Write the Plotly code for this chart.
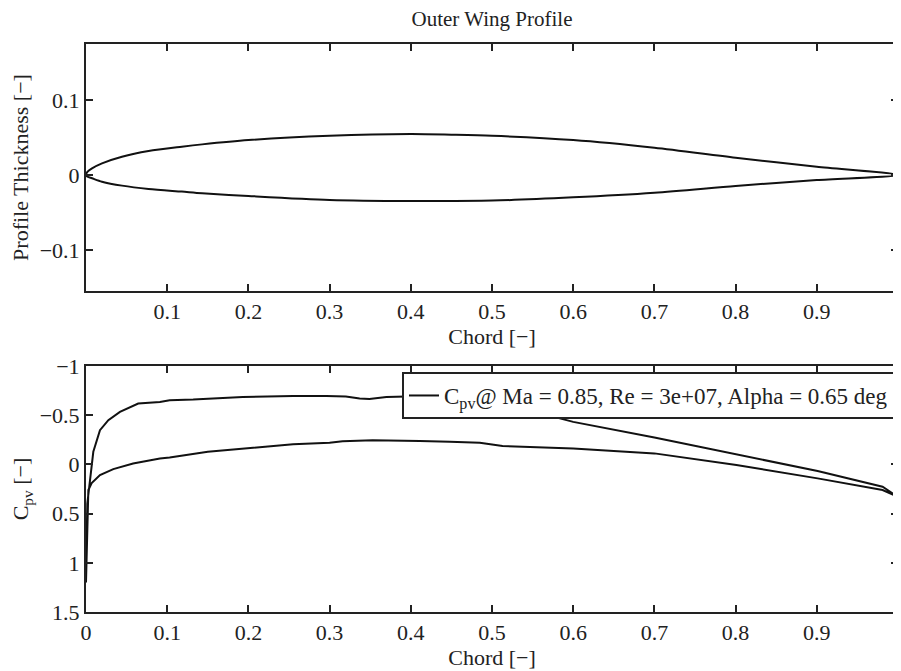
import plotly.graph_objects as go
from plotly.subplots import make_subplots

# ---- Profile geometry ----
upper_x = [0.0, 0.002, 0.0074, 0.0197, 0.0443, 0.077, 0.118, 0.143, 0.2, 0.3, 0.4, 0.45, 0.5, 0.6, 0.7, 0.8, 0.9, 1.0]
upper_y = [0.0, 0.0045, 0.0089, 0.0156, 0.0244, 0.032, 0.0378, 0.0409, 0.0467, 0.0524, 0.0547, 0.0538, 0.0524, 0.0467, 0.0364, 0.0231, 0.0111, 0.0]
lower_x = [0.0, 0.002, 0.0074, 0.0197, 0.0443, 0.077, 0.118, 0.143, 0.2, 0.3, 0.4, 0.5, 0.6, 0.7, 0.8, 0.9, 1.0]
lower_y = [0.0, -0.0024, -0.0044, -0.0089, -0.0142, -0.0187, -0.0222, -0.0244, -0.028, -0.0333, -0.0347, -0.0342, -0.0298, -0.0236, -0.0147, -0.0067, 0.0]

# ---- Pressure distribution ----
cp_upper_x = [0.0, 0.0005, 0.0016, 0.009, 0.0172, 0.0275, 0.0418, 0.0643, 0.091, 0.103, 0.132, 0.193,
              0.255, 0.296, 0.32, 0.337, 0.349, 0.37, 0.386, 0.42, 0.45, 0.5, 0.554, 0.6, 0.7, 0.801,
              0.901, 0.981, 1.0]
cp_upper = [1.2, 0.8, 0.40, -0.128, -0.348, -0.449, -0.533, -0.619, -0.635, -0.652, -0.659, -0.686,
            -0.696, -0.696, -0.69, -0.669, -0.665, -0.686, -0.693, -0.695, -0.69, -0.62, -0.533, -0.432,
            -0.274, -0.101, 0.068, 0.227, 0.33]
cp_lower_x = [0.0, 0.0029, 0.007, 0.0172, 0.0336, 0.058, 0.091, 0.103, 0.15, 0.173, 0.2, 0.255, 0.3,
              0.316, 0.353, 0.378, 0.411, 0.448, 0.485, 0.513, 0.6, 0.7, 0.801, 0.901, 0.981, 1.0]
cp_lower = [1.2, 0.26, 0.19, 0.109, 0.048, -0.01, -0.061, -0.071, -0.128, -0.145, -0.172, -0.206,
            -0.219, -0.236, -0.246, -0.246, -0.239, -0.229, -0.219, -0.186, -0.162, -0.112, 0.007,
            0.142, 0.26, 0.33]

top_xticks = [0.1, 0.2, 0.3, 0.4, 0.5, 0.6, 0.7, 0.8, 0.9, 1.0]
top_xlabels = ["0.1", "0.2", "0.3", "0.4", "0.5", "0.6", "0.7", "0.8", "0.9", "1"]
bot_xticks = [0, 0.1, 0.2, 0.3, 0.4, 0.5, 0.6, 0.7, 0.8, 0.9, 1.0]
bot_xlabels = ["0", "0.1", "0.2", "0.3", "0.4", "0.5", "0.6", "0.7", "0.8", "0.9", "1"]
top_yticks = [-0.1, 0, 0.1]
top_ylabels = ["\u22120.1", "0", "0.1"]
bot_yticks = [-1, -0.5, 0, 0.5, 1, 1.5]
bot_ylabels = ["\u22121", "\u22120.5", "0", "0.5", "1", "1.5"]

FONT = "Liberation Serif"
FS = 22
TICKF = dict(family=FONT, size=FS, color="#222")

fig = make_subplots(rows=2, cols=1)

prof_x = upper_x[::-1] + lower_x[1:]
prof_y = upper_y[::-1] + lower_y[1:]
fig.add_trace(go.Scatter(x=prof_x, y=prof_y, mode="lines",
                         line=dict(color="#111", width=2, shape="spline", smoothing=0.8),
                         showlegend=False), row=1, col=1)

cp_x = cp_upper_x[::-1] + cp_lower_x[1:]
cp_y = cp_upper[::-1] + cp_lower[1:]
fig.add_trace(go.Scatter(x=cp_x, y=cp_y, mode="lines", line=dict(color="#111", width=2),
                         name="C<sub>pv</sub>@ Ma = 0.85, Re = 3e+07, Alpha = 0.65 deg",
                         showlegend=True), row=2, col=1)

axis_common = dict(showline=True, linecolor="#222", linewidth=2, mirror="ticks", ticks="inside",
                   ticklen=7, tickwidth=2, tickcolor="#222", showgrid=False, zeroline=False,
                   tickfont=TICKF, automargin=False, ticklabeloverflow="allow")
TF = dict(family=FONT, size=FS, color="#222")

fig.update_xaxes(range=[0, 1], tickvals=top_xticks, ticktext=top_xlabels, domain=[0, 1],
                 title=dict(text="Chord [\u2212]", font=TF, standoff=4), **axis_common, row=1, col=1)
fig.update_yaxes(range=[-0.155, 0.175], tickvals=top_yticks, ticktext=top_ylabels,
                 domain=[0.5651, 1.0], title=dict(text="Profile Thickness [\u2212]", font=TF, standoff=6),
                 **axis_common, row=1, col=1)
fig.update_xaxes(range=[0, 1], tickvals=bot_xticks, ticktext=bot_xlabels, domain=[0, 1],
                 title=dict(text="Chord [\u2212]", font=TF, standoff=3), **axis_common, row=2, col=1)
fig.update_yaxes(range=[1.5, -1], tickvals=bot_yticks, ticktext=bot_ylabels,
                 domain=[0, 0.4331], title=dict(text="C<sub>pv</sub> [\u2212]", font=TF, standoff=6),
                 **axis_common, row=2, col=1)

fig.update_layout(
    width=893, height=663,
    margin=dict(l=78, r=3, t=36, b=59),
    paper_bgcolor="white", plot_bgcolor="white",
    font=dict(family=FONT, size=FS, color="#222"),
    title=dict(text="Outer Wing Profile", x=0.5, xref="paper", xanchor="center",
               y=1 - 11 / 663, yref="container", yanchor="middle",
               font=dict(family=FONT, size=21, color="#222")),
    legend=dict(x=0.9963, y=0.4225, xanchor="right", yanchor="top", bgcolor="white",
                bordercolor="#222", borderwidth=2, font=dict(family=FONT, size=23, color="#222"),
                itemwidth=30, tracegroupgap=0),
)

fig.write_html("out.html")
